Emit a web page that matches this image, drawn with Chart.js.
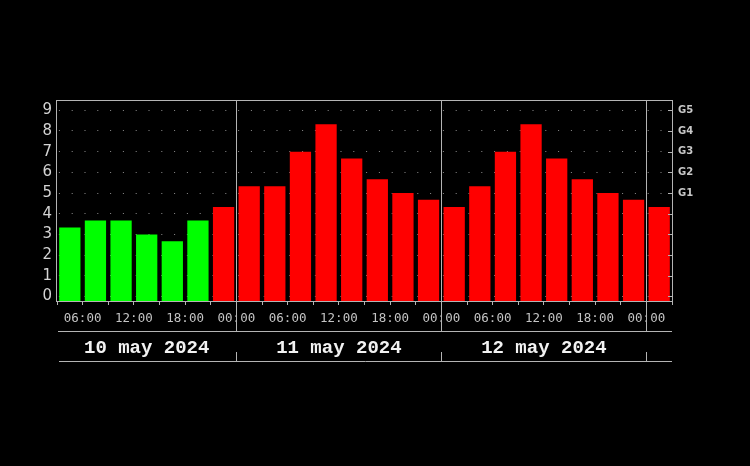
<!DOCTYPE html>
<html>
<head>
<meta charset="utf-8">
<script src="https://cdn.jsdelivr.net/npm/chart.js@4/dist/chart.umd.min.js"></script>
<style>
  html, body { margin: 0; padding: 0; background: #000; }
  canvas { display: block; }
</style>
</head>
<body>
<canvas id="kpChart" width="750" height="466"></canvas>
<script>
// --- datos del gráfico ---
// Kp cada 3 horas, empezando a las 03:00 del 10 de mayo
const kpValues = [
  3.33, 3.67, 3.67, 3.0, 2.67, 3.67, 4.33,
  5.33, 5.33, 7.0, 8.33, 6.67, 5.67, 5.0, 4.67,
  4.33, 5.33, 7.0, 8.33, 6.67, 5.67, 5.0, 4.67,
  4.33
];
const firstHour = 3;        // horas desde el 10 may 00:00
const periodHours = 3;
const dayLabels = ["10 may 2024", "11 may 2024", "12 may 2024"];
const dayStarts = [0, 24, 48];   // horas
const dayBoundaries = [24, 48, 72];
const stormLabels = ["G1", "G2", "G3", "G4", "G5"]; // Kp 5..9

const GREEN = "#00ff00";
const RED = "#ff0000";
const LINE = "#b4b4b4";
const Y_MIN = -0.22;
const Y_MAX = 9.45;

const lastHour = firstHour + periodHours * kpValues.length;
const points = kpValues.map((v, i) => ({ x: firstHour + periodHours * (i + 0.5), y: v }));

const pad2 = n => String(n).padStart(2, "0");

// marco, separadores de días y fechas
const framePlugin = {
  id: "frame",
  afterDatasetsDraw(chart) {
    const { ctx, chartArea: a, scales } = chart;
    const xs = scales.x;
    ctx.save();
    ctx.strokeStyle = LINE;
    ctx.lineWidth = 1;
    ctx.strokeRect(Math.round(a.left) - 0.5, Math.round(a.top) - 0.5,
      Math.round(a.right - a.left) + 1, Math.round(a.bottom - a.top) + 1);

    // marcas hacia dentro en el eje derecho
    const ys = scales.y;
    ctx.beginPath();
    for (let v = 0; v <= 9; v++) {
      const py = Math.round(ys.getPixelForValue(v)) + 0.5;
      ctx.moveTo(a.right - 4, py);
      ctx.lineTo(a.right, py);
    }
    ctx.stroke();

    const b = Math.round(a.bottom);
    ctx.beginPath();
    ctx.moveTo(a.left + 1, b + 30.5);
    ctx.lineTo(a.right, b + 30.5);
    ctx.moveTo(a.left + 2, b + 60.5);
    ctx.lineTo(a.right, b + 60.5);
    dayBoundaries.forEach(h => {
      const px = Math.round(xs.getPixelForValue(h)) + 0.5;
      ctx.moveTo(px, b);
      ctx.lineTo(px, b + 30);
      ctx.moveTo(px, b + 51);
      ctx.lineTo(px, b + 60);
    });
    ctx.stroke();

    ctx.fillStyle = "#f2f2f2";
    ctx.font = "bold 19px 'Liberation Mono', monospace";
    ctx.textAlign = "center";
    ctx.textBaseline = "middle";
    dayLabels.forEach((txt, i) => {
      const x0 = Math.max(a.left, xs.getPixelForValue(dayStarts[i]));
      const x1 = Math.min(a.right, xs.getPixelForValue(dayStarts[i] + 24));
      ctx.fillText(txt, (x0 + x1) / 2, b + 47);
    });
    ctx.restore();
  }
};

new Chart(document.getElementById("kpChart"), {
  type: "bar",
  data: {
    datasets: [{
      data: points,
      base: Y_MIN,
      backgroundColor: kpValues.map(v => v < 4 ? GREEN : RED),
      borderWidth: 0,
      categoryPercentage: 1,
      barPercentage: 0.83
    }]
  },
  options: {
    responsive: false,
    animation: false,
    layout: { padding: { top: 101, left: 0, right: 0, bottom: 0 } },
    plugins: { legend: { display: false }, tooltip: { enabled: false } },
    scales: {
      x: {
        type: "linear",
        min: firstHour,
        max: lastHour,
        offset: false,
        afterFit: s => { s.height = 165; },
        ticks: {
          stepSize: periodHours,
          includeBounds: false,
          autoSkip: false,
          maxRotation: 0,
          padding: 6,
          color: "#c4c4c4",
          font: { family: "'DejaVu Sans Mono', monospace", size: 12.5 },
          callback: v => (v % 6 === 0 ? pad2(v % 24) + ":00" : "")
        },
        grid: {
          offset: false,
          color: c => (c.tick && c.tick.value % 24 === 0 ? LINE : "rgba(0,0,0,0)"),
          tickColor: LINE,
          tickLength: 4
        },
        border: { display: false }
      },
      y: {
        type: "linear",
        position: "left",
        min: Y_MIN,
        max: Y_MAX,
        afterFit: s => { s.width = 57; },
        ticks: {
          stepSize: 1,
          includeBounds: false,
          padding: 5,
          color: "#d4d4d4",
          font: { family: "'DejaVu Sans', sans-serif", size: 15 }
        },
        grid: { color: "#8c8c8c", lineWidth: 1, drawTicks: false },
        border: { display: false, dash: [1, 11.8], dashOffset: -1.9 }
      },
      y2: {
        type: "linear",
        position: "right",
        min: Y_MIN,
        max: Y_MAX,
        afterFit: s => { s.width = 78; },
        ticks: {
          stepSize: 1,
          includeBounds: false,
          padding: 6,
          color: "#c8c8c8",
          font: { family: "'DejaVu Sans', sans-serif", size: 10, weight: "bold" },
          callback: v => (v >= 5 && v <= 9 ? stormLabels[v - 5] : "")
        },
        grid: { display: false, drawTicks: false },
        border: { display: false }
      }
    }
  },
  plugins: [framePlugin]
});
</script>
</body>
</html>
